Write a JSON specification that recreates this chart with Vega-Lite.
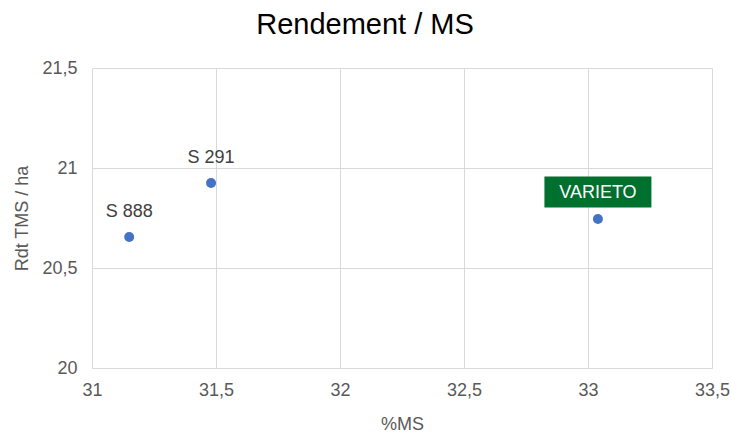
{
  "$schema": "https://vega.github.io/schema/vega-lite/v6.json",
  "autosize": {"type": "none"},
  "padding": {"left": 92, "top": 68, "right": 19, "bottom": 64},
  "width": 620,
  "height": 300,
  "title": {"text": "Rendement / MS", "anchor": "middle", "frame": "group", "dx": -37, "offset": 19, "fontSize": 29, "font": "Liberation Sans", "fontWeight": "normal", "color": "#000000"},
  "data": {"values": [
    {"variete": "S 888", "ms": 31.15, "rdt": 20.655, "type": "autre"},
    {"variete": "S 291", "ms": 31.48, "rdt": 20.925, "type": "autre"},
    {"variete": "VARIETO", "ms": 33.04, "rdt": 20.745, "type": "varieto"}
  ]},
  "encoding": {
    "x": {"field": "ms", "type": "quantitative", "title": "%MS",
      "scale": {"domain": [31, 33.5], "nice": false, "zero": false},
      "axis": {"values": [31, 31.5, 32, 32.5, 33, 33.5], "labelExpr": "replace(format(datum.value, '~g'), '.', ',')", "labelFlush": false, "ticks": false, "domain": true, "domainColor": "#d9d9d9", "gridColor": "#d9d9d9", "labelPadding": 13, "labelFontSize": 18, "labelColor": "#595959", "labelFont": "Liberation Sans", "titleFont": "Liberation Sans", "titleFontSize": 18, "titleFontWeight": "normal", "titleColor": "#595959", "titlePadding": 16}},
    "y": {"field": "rdt", "type": "quantitative", "title": "Rdt TMS  / ha",
      "scale": {"domain": [20, 21.5], "nice": false, "zero": false},
      "axis": {"values": [20, 20.5, 21, 21.5], "labelExpr": "replace(format(datum.value, '~g'), '.', ',')", "labelFlush": false, "ticks": false, "domain": false, "gridColor": "#d9d9d9", "labelPadding": 15, "labelFontSize": 18, "labelColor": "#595959", "labelFont": "Liberation Sans", "titleFont": "Liberation Sans", "titleFontSize": 18, "titleFontWeight": "normal", "titleColor": "#595959", "titlePadding": 10}}
  },
  "layer": [
    {"mark": {"type": "point", "filled": true, "size": 100, "color": "#4472C4", "opacity": 1}},
    {"transform": [{"filter": "datum.type == 'varieto'"}],
     "mark": {"type": "point", "filled": true, "opacity": 1, "color": "#00702E", "size": 10000, "shape": "M-1.07,-0.85 L1.07,-0.85 L1.07,-0.23 L-1.07,-0.23 Z"}},
    {"transform": [{"filter": "datum.type == 'varieto'"}],
     "mark": {"type": "text", "dy": -26, "baseline": "middle", "fontSize": 18, "font": "Liberation Sans", "color": "#ffffff"},
     "encoding": {"text": {"field": "variete"}}},
    {"transform": [{"filter": "datum.type == 'autre'"}],
     "mark": {"type": "text", "dy": -25, "baseline": "middle", "fontSize": 18, "font": "Liberation Sans", "color": "#404040"},
     "encoding": {"text": {"field": "variete"}}}
  ],
  "config": {"view": {"stroke": null}, "background": "#ffffff"}
}
